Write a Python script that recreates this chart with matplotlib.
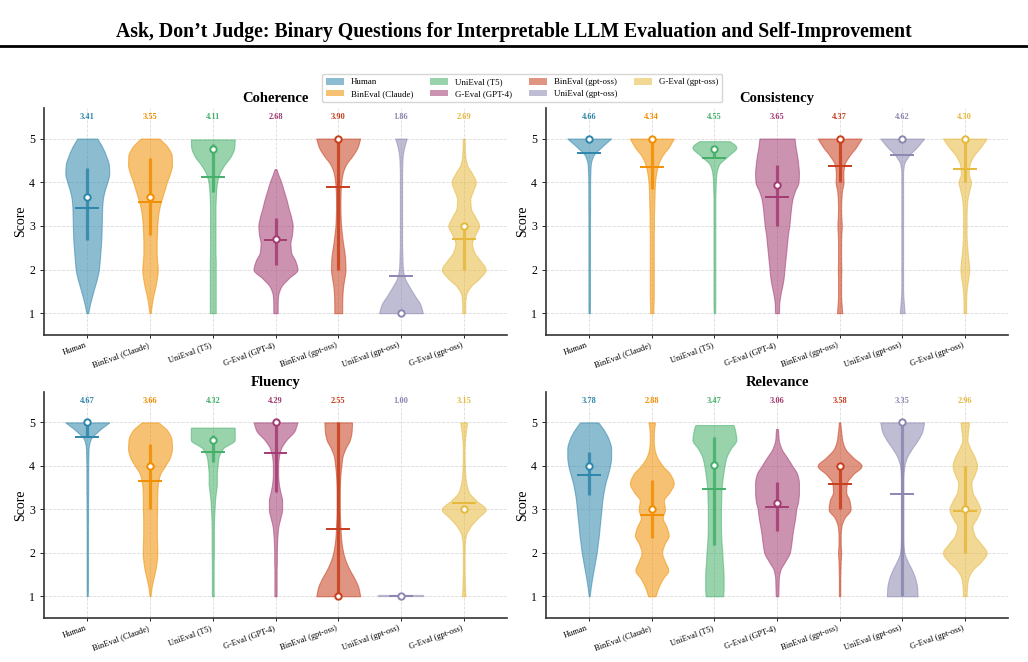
import numpy as np
import matplotlib
matplotlib.use("Agg")
import matplotlib.pyplot as plt
from matplotlib.patches import Patch
from matplotlib.lines import Line2D

plt.rcParams['font.family'] = ['Liberation Serif', 'DejaVu Serif']

# ---------------- data ----------------
METHODS = ['Human', 'BinEval (Claude)', 'UniEval (T5)', 'G-Eval (GPT-4)',
           'BinEval (gpt-oss)', 'UniEval (gpt-oss)', 'G-Eval (gpt-oss)']
COLORS = ['#2E86AB', '#F18F01', '#44AF69', '#A23B72', '#C73E1D', '#8B87B0', '#E6B83C']
ASPECTS = ['Coherence', 'Consistency', 'Fluency', 'Relevance']

# score grid on which violin half-widths (relative density) are read
SCORE_GRID = [1.0, 1.2, 1.4, 1.6, 1.8, 2.0, 2.2, 2.4, 2.6, 2.8, 3.0,
              3.2, 3.4, 3.6, 3.8, 4.0, 4.2, 4.4, 4.6, 4.8, 5.0]

# ---- Coherence ----
COH_DENSITY = [
    [0.04, 0.12, 0.22, 0.33, 0.44, 0.52, 0.56, 0.59, 0.62, 0.64, 0.65, 0.66, 0.67, 0.70, 0.78, 0.90, 0.99, 0.97, 0.85, 0.68, 0.45],
    [0.03, 0.08, 0.15, 0.24, 0.31, 0.35, 0.32, 0.30, 0.30, 0.31, 0.33, 0.36, 0.42, 0.52, 0.64, 0.76, 0.90, 0.99, 0.98, 0.80, 0.42],
    [0.13, 0.13, 0.13, 0.13, 0.13, 0.13, 0.13, 0.12, 0.12, 0.12, 0.12, 0.12, 0.12, 0.13, 0.15, 0.19, 0.30, 0.52, 0.80, 0.95, 0.97],
    [0.10, 0.10, 0.12, 0.25, 0.60, 1.00, 0.90, 0.71, 0.68, 0.75, 0.78, 0.71, 0.60, 0.50, 0.38, 0.26, 0.11, 0.00, 0.00, 0.00, 0.00],
    [0.18, 0.18, 0.19, 0.22, 0.28, 0.33, 0.32, 0.28, 0.22, 0.17, 0.13, 0.11, 0.10, 0.10, 0.11, 0.14, 0.20, 0.35, 0.64, 0.88, 1.00],
    [1.00, 0.88, 0.63, 0.39, 0.18, 0.09, 0.07, 0.06, 0.05, 0.05, 0.05, 0.05, 0.05, 0.05, 0.05, 0.05, 0.05, 0.06, 0.08, 0.15, 0.26],
    [0.07, 0.07, 0.10, 0.30, 0.72, 1.00, 0.76, 0.48, 0.38, 0.53, 0.70, 0.53, 0.33, 0.30, 0.42, 0.55, 0.38, 0.15, 0.07, 0.05, 0.04],
]
COH_LOW = [1, 1, 1, 1, 1, 1, 1]
COH_HIGH = [5, 5, 4.98, 4.3, 5, 5, 5]
COH_MEAN = [3.41, 3.55, 4.11, 2.68, 3.90, 1.86, 2.69]
COH_MEDIAN = [3.67, 3.67, 4.77, 2.70, 5.0, 1.0, 3.0]
COH_Q1 = [2.67, 2.78, 3.78, 2.10, 2.0, 1.0, 2.0]
COH_Q3 = [4.33, 4.55, 4.88, 3.18, 5.0, 1.0, 3.0]

# ---- Consistency ----
CON_DENSITY = [
    [0.03, 0.035, 0.035, 0.035, 0.035, 0.035, 0.035, 0.035, 0.035, 0.035, 0.035, 0.035, 0.04, 0.04, 0.04, 0.04, 0.05, 0.07, 0.18, 0.55, 1.00],
    [0.07, 0.08, 0.09, 0.09, 0.09, 0.09, 0.09, 0.09, 0.09, 0.09, 0.10, 0.10, 0.11, 0.12, 0.13, 0.15, 0.20, 0.29, 0.47, 0.77, 1.00],
    [0.03, 0.04, 0.04, 0.04, 0.04, 0.04, 0.04, 0.04, 0.04, 0.04, 0.04, 0.04, 0.04, 0.04, 0.05, 0.06, 0.09, 0.20, 0.60, 0.97, 0.50],
    [0.09, 0.10, 0.15, 0.23, 0.30, 0.34, 0.38, 0.42, 0.46, 0.50, 0.56, 0.60, 0.64, 0.70, 0.82, 0.98, 1.00, 0.97, 0.92, 0.85, 0.80],
    [0.12, 0.09, 0.07, 0.07, 0.07, 0.08, 0.07, 0.07, 0.07, 0.08, 0.10, 0.08, 0.07, 0.08, 0.11, 0.18, 0.17, 0.22, 0.44, 0.75, 1.00],
    [0.11, 0.08, 0.05, 0.04, 0.04, 0.04, 0.04, 0.04, 0.04, 0.04, 0.04, 0.04, 0.04, 0.04, 0.04, 0.04, 0.04, 0.08, 0.29, 0.67, 1.00],
    [0.06, 0.06, 0.07, 0.10, 0.16, 0.20, 0.17, 0.13, 0.10, 0.08, 0.08, 0.08, 0.09, 0.12, 0.20, 0.28, 0.18, 0.22, 0.40, 0.72, 1.00],
]
CON_LOW = [1, 1, 1, 1, 1, 1, 1]
CON_HIGH = [5, 5, 4.94, 5, 5, 5, 5]
CON_MEAN = [4.66, 4.34, 4.55, 3.65, 4.37, 4.62, 4.30]
CON_MEDIAN = [5.0, 5.0, 4.75, 3.93, 5.0, 5.0, 5.0]
CON_Q1 = [5.0, 3.85, 4.58, 3.0, 4.0, 5.0, 4.0]
CON_Q3 = [5.0, 5.0, 4.75, 4.4, 5.0, 5.0, 5.0]

# ---- Fluency ----
FLU_DENSITY = [
    [0.02, 0.03, 0.03, 0.03, 0.03, 0.03, 0.03, 0.03, 0.03, 0.035, 0.035, 0.035, 0.04, 0.04, 0.04, 0.04, 0.05, 0.06, 0.14, 0.50, 1.00],
    [0.02, 0.07, 0.15, 0.24, 0.30, 0.33, 0.32, 0.31, 0.31, 0.31, 0.32, 0.32, 0.33, 0.36, 0.45, 0.68, 0.90, 0.99, 0.97, 0.80, 0.38],
    [0.04, 0.04, 0.04, 0.04, 0.04, 0.05, 0.05, 0.05, 0.05, 0.06, 0.08, 0.10, 0.14, 0.18, 0.18, 0.21, 0.26, 0.45, 0.97, 0.97, 0.95],
    [0.05, 0.05, 0.05, 0.05, 0.06, 0.06, 0.07, 0.09, 0.13, 0.22, 0.30, 0.30, 0.22, 0.15, 0.12, 0.12, 0.15, 0.25, 0.50, 0.86, 1.00],
    [1.00, 0.92, 0.75, 0.53, 0.35, 0.23, 0.16, 0.12, 0.10, 0.08, 0.07, 0.07, 0.07, 0.08, 0.10, 0.14, 0.19, 0.33, 0.53, 0.61, 0.63],
    [0.00, 0.00, 0.00, 0.00, 0.00, 0.00, 0.00, 0.00, 0.00, 0.00, 0.00, 0.00, 0.00, 0.00, 0.00, 0.00, 0.00, 0.00, 0.00, 0.00, 0.00],
    [0.08, 0.06, 0.05, 0.04, 0.04, 0.04, 0.05, 0.10, 0.30, 0.64, 1.00, 0.58, 0.23, 0.12, 0.07, 0.05, 0.04, 0.04, 0.06, 0.10, 0.16],
]
FLU_LOW = [1, 1, 1, 1, 1, 1, 1]
FLU_HIGH = [5, 5, 4.88, 5, 5, 1, 5]
FLU_MEAN = [4.67, 3.66, 4.32, 4.29, 2.55, 1.00, 3.15]
FLU_MEDIAN = [5.0, 4.0, 4.6, 5.0, 1.0, 1.0, 3.0]
FLU_Q1 = [4.67, 3.0, 4.1, 3.4, 1.0, 1.0, 3.0]
FLU_Q3 = [5.0, 4.5, 4.72, 5.0, 5.0, 1.0, 3.0]

# ---- Relevance ----
REL_DENSITY = [
    [0.02, 0.07, 0.13, 0.20, 0.27, 0.34, 0.39, 0.44, 0.48, 0.52, 0.56, 0.60, 0.66, 0.74, 0.85, 0.95, 1.00, 1.00, 0.90, 0.70, 0.42],
    [0.17, 0.30, 0.50, 0.75, 0.60, 0.47, 0.58, 0.77, 0.67, 0.50, 0.60, 0.55, 0.82, 1.00, 0.85, 0.50, 0.24, 0.12, 0.09, 0.10, 0.15],
    [0.40, 0.42, 0.42, 0.41, 0.38, 0.36, 0.33, 0.31, 0.30, 0.30, 0.30, 0.31, 0.32, 0.35, 0.40, 0.46, 0.55, 0.75, 1.00, 0.95, 0.83],
    [0.06, 0.07, 0.08, 0.15, 0.37, 0.58, 0.65, 0.70, 0.76, 0.83, 0.88, 0.97, 1.00, 1.00, 0.93, 0.70, 0.45, 0.20, 0.08, 0.05, 0.00],
    [0.03, 0.03, 0.03, 0.04, 0.05, 0.07, 0.05, 0.05, 0.08, 0.22, 0.50, 0.45, 0.30, 0.33, 0.60, 1.00, 0.60, 0.25, 0.12, 0.07, 0.03],
    [0.70, 0.68, 0.60, 0.45, 0.25, 0.10, 0.06, 0.05, 0.05, 0.05, 0.05, 0.05, 0.05, 0.05, 0.06, 0.10, 0.22, 0.45, 0.72, 0.92, 1.00],
    [0.08, 0.10, 0.15, 0.35, 0.75, 1.00, 0.75, 0.45, 0.35, 0.55, 0.70, 0.55, 0.35, 0.30, 0.45, 0.56, 0.45, 0.25, 0.12, 0.15, 0.20],
]
REL_LOW = [1, 1, 1, 1, 1, 1, 1]
REL_HIGH = [5, 5, 4.94, 4.85, 5, 5, 5]
REL_MEAN = [3.78, 2.88, 3.47, 3.06, 3.58, 3.35, 2.96]
REL_MEDIAN = [4.0, 3.0, 4.02, 3.15, 4.0, 5.0, 3.0]
REL_Q1 = [3.33, 2.33, 2.17, 2.50, 3.0, 1.0, 2.0]
REL_Q3 = [4.33, 3.67, 4.67, 3.64, 4.0, 5.0, 4.0]

PANELS = [
    (COH_DENSITY, COH_LOW, COH_HIGH, COH_MEAN, COH_MEDIAN, COH_Q1, COH_Q3),
    (CON_DENSITY, CON_LOW, CON_HIGH, CON_MEAN, CON_MEDIAN, CON_Q1, CON_Q3),
    (FLU_DENSITY, FLU_LOW, FLU_HIGH, FLU_MEAN, FLU_MEDIAN, FLU_Q1, FLU_Q3),
    (REL_DENSITY, REL_LOW, REL_HIGH, REL_MEAN, REL_MEDIAN, REL_Q1, REL_Q3),
]


def pchip(x, y, xn):
    x = np.asarray(x, float)
    y = np.asarray(y, float)
    h = np.diff(x)
    d = np.diff(y) / h
    m = np.zeros_like(y)
    for k in range(1, len(x) - 1):
        if d[k - 1] * d[k] > 0:
            w1 = 2 * h[k] + h[k - 1]
            w2 = h[k] + 2 * h[k - 1]
            m[k] = (w1 + w2) / (w1 / d[k - 1] + w2 / d[k])
    m[0] = d[0]
    m[-1] = d[-1]
    idx = np.clip(np.searchsorted(x, xn) - 1, 0, len(x) - 2)
    t = (xn - x[idx]) / h[idx]
    h00 = 2 * t**3 - 3 * t**2 + 1
    h10 = t**3 - 2 * t**2 + t
    h01 = -2 * t**3 + 3 * t**2
    h11 = t**3 - t**2
    return (h00 * y[idx] + h10 * h[idx] * m[idx] + h01 * y[idx + 1] + h11 * h[idx] * m[idx + 1])


HALF = 0.35
W, H = 1028, 662
fig = plt.figure(figsize=(W / 100, H / 100), dpi=100)

fig.text(0.5, 1 - 32 / H, 'Ask, Don\u2019t Judge: Binary Questions for Interpretable LLM Evaluation and Self-Improvement',
         ha='center', va='center', fontsize=14.2, fontweight='bold')
fig.add_artist(Line2D([0, 1], [1 - 46 / H, 1 - 46 / H], color='black', lw=2, transform=fig.transFigure))

boxes = [(44, 108, 507, 335), (546, 108, 1008, 335), (44, 392, 507, 618), (546, 392, 1008, 618)]
x = np.arange(len(METHODS))

for (aspect, panel, box) in zip(ASPECTS, PANELS, boxes):
    dens, lows, highs, means, meds, q1s, q3s = panel
    l, t, r, b = box
    ax = fig.add_axes([l / W, 1 - b / H, (r - l) / W, (b - t) / H])
    for i in range(len(METHODS)):
        c = COLORS[i]
        lo, hi = lows[i], highs[i]
        if hi - lo < 1e-6:
            ax.plot([x[i] - HALF, x[i] + HALF], [lo, lo], color=c, lw=1.6, alpha=0.6, zorder=2)
        else:
            ys = np.linspace(lo, hi, 300)
            w = np.clip(pchip(SCORE_GRID, dens[i], ys), 0.005, None)
            w = w / w.max() * HALF
            ax.fill_betweenx(ys, x[i] - w, x[i] + w, facecolor=c, alpha=0.55,
                             edgecolor=c, lw=0.8, zorder=2)
        if q3s[i] - q1s[i] > 1e-6:
            ax.plot([x[i], x[i]], [q1s[i], q3s[i]], color=c, lw=2.3, alpha=0.85,
                    solid_capstyle='butt', zorder=3)
        ax.plot([x[i] - 0.175, x[i] + 0.175], [means[i], means[i]], color=c, lw=1.4, zorder=4)
        ax.plot([x[i]], [meds[i]], 'o', ms=4.6, mfc='white', mec=c, mew=1.4, zorder=5)
        ax.text(x[i], 5.5, f'{means[i]:.2f}', ha='center', va='center', fontsize=6,
                fontweight='bold', color=c)
    ax.set_xlim(-0.69, 6.69)
    ax.set_ylim(0.5, 5.7)
    ax.set_yticks([1, 2, 3, 4, 5])
    ax.set_xticks(x)
    ax.set_xticklabels(METHODS, rotation=20, ha='right', fontsize=6)
    ax.tick_params(axis='y', labelsize=8.5, length=3, width=0.6)
    ax.tick_params(axis='x', length=2.5, width=0.6, pad=2)
    ax.set_ylabel('Score', fontsize=10, labelpad=1)
    ax.set_title(aspect, fontsize=10.5, fontweight='bold', pad=4)
    ax.grid(True, linestyle='--', color='#cccccc', lw=0.6, alpha=0.7)
    ax.set_axisbelow(True)
    for s in ['top', 'right']:
        ax.spines[s].set_visible(False)
    for s in ['left', 'bottom']:
        ax.spines[s].set_color('#333333')
        ax.spines[s].set_linewidth(1.2)

handles = [Patch(facecolor=c, alpha=0.55, edgecolor='none', label=m) for m, c in zip(METHODS, COLORS)]
fig.legend(handles=handles, loc='center', bbox_to_anchor=(0.508, 1 - 88 / H), ncol=4,
           fontsize=6.4, frameon=True, edgecolor='#cccccc', fancybox=True,
           handlelength=2.0, handleheight=0.8, handletextpad=0.8, columnspacing=1.9,
           labelspacing=0.35, borderpad=0.45)

fig.savefig('out.png', dpi=100)
